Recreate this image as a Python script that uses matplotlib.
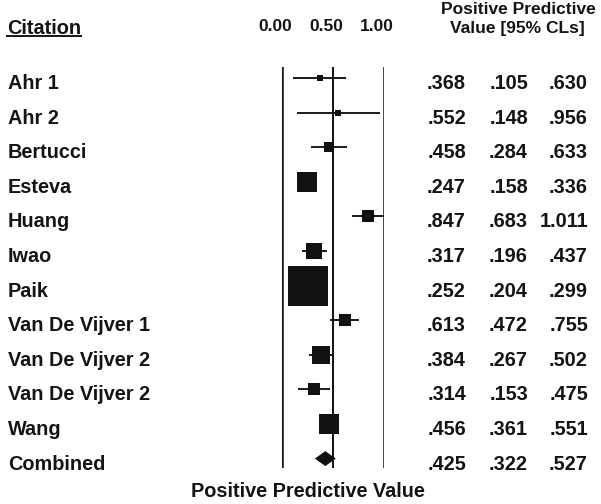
import numpy as np
import matplotlib
matplotlib.use("Agg")
import matplotlib.pyplot as plt
from matplotlib.transforms import blended_transform_factory, ScaledTranslation

# ---------------- data ----------------
citations = ["Ahr 1", "Ahr 2", "Bertucci", "Esteva", "Huang", "Iwao", "Paik",
             "Van De Vijver 1", "Van De Vijver 2", "Van De Vijver 2", "Wang"]
ppv = [0.368, 0.552, 0.458, 0.247, 0.847, 0.317, 0.252, 0.613, 0.384, 0.314, 0.456]
ci_low = [0.105, 0.148, 0.284, 0.158, 0.683, 0.196, 0.204, 0.472, 0.267, 0.153, 0.361]
ci_high = [0.630, 0.956, 0.633, 0.336, 1.011, 0.437, 0.299, 0.755, 0.502, 0.475, 0.551]
weights = [1.3, 0.7, 3.3, 12.0, 4.6, 7.0, 43.7, 4.6, 7.9, 3.9, 10.9]  # relative study weights (%)

combined_label = "Combined"
combined_ppv = 0.425
combined_low = 0.322
combined_high = 0.527

axis_ticks = [0.0, 0.5, 1.0]
axis_ticklabels = ["0.00", "0.50", "1.00"]

# ---------------- figure ----------------
W, H = 601, 504
DPI = 100
plt.rcParams['font.family'] = ['Liberation Sans', 'DejaVu Sans']
plt.rcParams['font.weight'] = 'bold'
fig = plt.figure(figsize=(W / DPI, H / DPI), dpi=DPI)

def fx(px):
    return px / W

def fy(py):
    return 1 - py / H

# axes: x 0..1 -> px 282..384 ; rows mapped to y px 78 + 34.6*i
x0_px, x1_px = 282, 384
top_px, bot_px = 67, 468
row0_px, row_step = 78, 34.6
ax = fig.add_axes([fx(x0_px), fy(bot_px), (x1_px - x0_px) / W, (bot_px - top_px) / H])
ax.set_xlim(0, 1)
ax.set_ylim((bot_px - row0_px) / row_step, (top_px - row0_px) / row_step)
ax.axis('off')

FS = 14.3
FS_HEAD = 12.5
TC = '#141414'

# reference lines
for t in axis_ticks:
    ax.axvline(t, color='#111111', lw=1.8 if t != 0.5 else 1.4, zorder=1)

n = len(citations)
rows = np.arange(n)
px_per_pt = DPI / 72.0
for i in range(n):
    hi = min(ci_high[i], 1.0)
    ax.plot([ci_low[i], hi], [rows[i], rows[i]], color='#1a1a1a', lw=1.4,
            solid_capstyle='butt', zorder=2)
    side_px = 6.05 * np.sqrt(weights[i])
    ax.plot([ppv[i]], [rows[i]], marker='s', markersize=side_px / px_per_pt,
            color='#111111', markeredgewidth=0, linestyle='none', zorder=3)

# combined diamond
cy = n
half_h = 7.5 / row_step
ax.fill([combined_low, combined_ppv, combined_high, combined_ppv],
        [cy, cy - half_h, cy, cy + half_h], color='#111111', lw=0, zorder=3)

# ---------------- text ----------------
labels_all = citations + [combined_label]
vals_all = list(zip(ppv + [combined_ppv], ci_low + [combined_low], ci_high + [combined_high]))

def fmt(v):
    s = f"{v:.3f}"
    return s[1:] if s.startswith("0") else s

trans_rows = blended_transform_factory(fig.transFigure, ax.transData)
base_off = 11 / row_step
col_right_px = [466, 528, 588]
for i, lab in enumerate(labels_all):
    y = i + base_off
    fig.text(fx(8), y, lab, transform=trans_rows, fontsize=FS, fontweight='bold',
             ha='left', va='baseline', color=TC)
    for j, v in enumerate(vals_all[i]):
        fig.text(fx(col_right_px[j]), y, fmt(v), transform=trans_rows, fontsize=FS,
                 fontweight='bold', ha='right', va='baseline', color=TC)

# header
t = fig.text(fx(7), fy(33.5), "Citation", fontsize=FS, fontweight='bold',
             ha='left', va='baseline', color=TC)
fig.canvas.draw()
bb = t.get_window_extent()
fig.add_artist(plt.Line2D([bb.x0 / W, bb.x1 / W], [fy(35.5), fy(35.5)],
                          transform=fig.transFigure, color=TC, lw=1.4))

trans_top = blended_transform_factory(ax.transData, fig.transFigure)
for tv, tl in zip(axis_ticks, axis_ticklabels):
    fig.text(tv, fy(31), tl, transform=trans_top + ScaledTranslation(-7 / DPI, 0, fig.dpi_scale_trans),
             fontsize=FS_HEAD, fontweight='bold', ha='center', va='baseline', color=TC)

fig.text(fx(518), fy(14.5), "Positive Predictive", fontsize=FS_HEAD, fontweight='bold',
         ha='center', va='baseline', color=TC)
fig.text(fx(517), fy(33), "Value [95% CLs]", fontsize=FS_HEAD, fontweight='bold',
         ha='center', va='baseline', color=TC)

fig.text(fx(308), fy(497), "Positive Predictive Value", fontsize=FS, fontweight='bold',
         ha='center', va='baseline', color=TC)

fig.savefig("out.png", dpi=DPI)
